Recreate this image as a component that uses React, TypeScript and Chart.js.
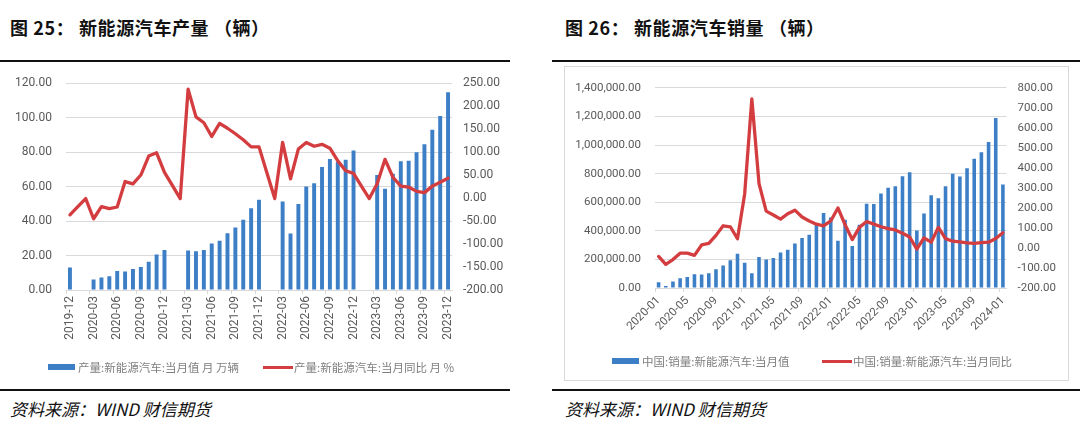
import React, { useEffect, useRef } from "react";
import { Chart, registerables } from "chart.js";
Chart.register(...registerables);

// ---------- Figure 25: production ----------
const prodMonths = [
  "2019-12",
  "2020-01", "2020-02", "2020-03", "2020-04", "2020-05", "2020-06", "2020-07", "2020-08", "2020-09", "2020-10", "2020-11", "2020-12",
  "2021-01", "2021-02", "2021-03", "2021-04", "2021-05", "2021-06", "2021-07", "2021-08", "2021-09", "2021-10", "2021-11", "2021-12",
  "2022-01", "2022-02", "2022-03", "2022-04", "2022-05", "2022-06", "2022-07", "2022-08", "2022-09", "2022-10", "2022-11", "2022-12",
  "2023-01", "2023-02", "2023-03", "2023-04", "2023-05", "2023-06", "2023-07", "2023-08", "2023-09", "2023-10", "2023-11", "2023-12",
];
const prodVolume = [
  13.0,
  null, null, 6.1, 7.2, 8.0, 11.0, 10.7, 12.2, 13.3, 16.4, 20.6, 23.2,
  null, null, 22.9, 22.5, 23.2, 27.0, 28.6, 33.0, 36.2, 40.8, 47.4, 52.4,
  null, null, 51.4, 32.8, 49.9, 60.0, 61.9, 71.4, 76.0, 74.3, 75.6, 81.0,
  null, null, 66.7, 58.7, 67.4, 74.7, 75.0, 80.0, 84.6, 93.0, 101.0, 114.7,
];
const prodYoY = [
  -36.5,
  -18.7, -1, -45, -18.7, -23, -19.4, 36, 31, 50.2, 91.5, 98.6, 56,
  27.5, -1, 237, 176.8, 164, 134, 162.6, 152, 140, 127, 111.4, 111.4,
  55, -1, 121.4, 41.7, 107, 121, 112.8, 117, 108.6, 81, 59.6, 53.8,
  26, -1, 31, 84.3, 45.3, 26, 24, 14.7, 11.9, 26, 34.6, 43,
];
const prodBarLabel = "产量:新能源汽车:当月值 月 万辆";
const prodLineLabel = "产量:新能源汽车:当月同比 月 %";

// ---------- Figure 26: sales ----------
const salesMonths = [
  "2020-01", "2020-02", "2020-03", "2020-04", "2020-05", "2020-06", "2020-07", "2020-08", "2020-09", "2020-10", "2020-11", "2020-12",
  "2021-01", "2021-02", "2021-03", "2021-04", "2021-05", "2021-06", "2021-07", "2021-08", "2021-09", "2021-10", "2021-11", "2021-12",
  "2022-01", "2022-02", "2022-03", "2022-04", "2022-05", "2022-06", "2022-07", "2022-08", "2022-09", "2022-10", "2022-11", "2022-12",
  "2023-01", "2023-02", "2023-03", "2023-04", "2023-05", "2023-06", "2023-07", "2023-08", "2023-09", "2023-10", "2023-11", "2023-12",
  "2024-01",
];
const salesVolume = [
  40700, 13500, 45000, 68000, 77000, 97000, 95000, 104000, 131000, 158000, 194000, 240000,
  176000, 104000, 217000, 199000, 210000, 249000, 267000, 312000, 350000, 373000, 452000, 524000,
  493000, 330000, 477000, 294000, 443000, 590000, 588000, 662000, 701000, 712000, 782000, 809000,
  402000, 522000, 649000, 628000, 712000, 800000, 780000, 838000, 904000, 949000, 1021000, 1189000,
  725000,
];
const salesYoY = [
  -42, -82, -58, -26, -26, -37, 15, 23, 63, 111, 106, 46,
  270, 745, 322, 184, 165, 144, 171, 189, 155, 135, 119, 111,
  135, 200, 116, 42, 103, 132, 119, 106, 97, 90, 74, 55,
  -6, 50, 29, 103, 47, 34, 31, 26, 23, 27, 29, 47,
  76,
];
const salesBarLabel = "中国:销量:新能源汽车:当月值";
const salesLineLabel = "中国:销量:新能源汽车:当月同比";

const BAR = "#3d7fc6";
const LINE = "#d43d3f";
const GRID = "#d9d9d9";
const TICK = "#595959";
const NUM_FONT = "Roboto, 'Liberation Sans', sans-serif";
const CJK = "'Noto Sans CJK SC', 'Noto Sans', sans-serif";

function fmt2(v: number) {
  return Number(v).toFixed(2);
}
function fmtThousands(v: number) {
  return Number(v).toLocaleString("en-US", { minimumFractionDigits: 2, maximumFractionDigits: 2 });
}

function makeConfig(p: any): any {
  return {
    type: "bar",
    data: {
      labels: p.labels,
      datasets: [
        {
          type: "line",
          label: p.lineLabel,
          data: p.line,
          yAxisID: "y1",
          borderColor: LINE,
          backgroundColor: LINE,
          borderWidth: 3.3,
          pointRadius: 0,
          tension: 0,
          borderJoinStyle: "round",
          borderCapStyle: "round",
          order: 0,
        },
        {
          type: "bar",
          label: p.barLabel,
          data: p.bars,
          yAxisID: "y",
          backgroundColor: BAR,
          barPercentage: 0.5,
          categoryPercentage: 1,
          order: 1,
        },
      ],
    },
    options: {
      animation: false,
      responsive: false,
      maintainAspectRatio: false,
      layout: { padding: p.padding },
      plugins: { legend: { display: false }, tooltip: { enabled: false } },
      scales: {
        x: {
          offset: true,
          grid: {
            offset: true,
            drawOnChartArea: false,
            drawTicks: true,
            tickLength: 4,
            color: (c: any) => (c.index % p.every === 0 ? GRID : "rgba(0,0,0,0)"),
          },
          border: { color: GRID },
          ticks: {
            autoSkip: false,
            minRotation: p.rotation,
            maxRotation: p.rotation,
            padding: 2,
            color: TICK,
            font: { family: NUM_FONT, size: p.xFont },
            callback: (_v: any, i: number) => (i % p.every === 0 ? p.labels[i] : ""),
          },
          afterFit: (s: any) => {
            s.height = p.xHeight;
          },
        },
        y: {
          position: "left",
          min: p.left.min,
          max: p.left.max,
          ticks: {
            stepSize: p.left.step,
            padding: p.left.pad,
            color: TICK,
            font: { family: NUM_FONT, size: p.yFont },
            callback: p.left.fmt,
          },
          grid: { color: GRID, drawTicks: false, lineWidth: 1 },
          border: { display: false },
          afterFit: (s: any) => {
            s.width = p.left.width;
          },
        },
        y1: {
          position: "right",
          min: p.right.min,
          max: p.right.max,
          ticks: {
            stepSize: p.right.step,
            padding: p.right.pad,
            color: TICK,
            font: { family: NUM_FONT, size: p.yFont },
            callback: p.right.fmt,
          },
          grid: { drawOnChartArea: false, drawTicks: false },
          border: { display: false },
          afterFit: (s: any) => {
            s.width = p.right.width;
          },
        },
      },
    },
  };
}

const abs = (s: any): any => ({ position: "absolute", ...s });

function Legend({ x1, t1, x2, t2, y, textX1, textX2 }: any) {
  const txt = { fontFamily: CJK, fontSize: "11.5px", color: "#7f7f7f", lineHeight: "14px", whiteSpace: "nowrap" };
  return (
    <>
      <div style={abs({ left: x1, top: y - 3, width: 27, height: 6, background: BAR })} />
      <div style={abs({ left: textX1, top: y - 7, ...txt })}>{t1}</div>
      <div style={abs({ left: x2, top: y - 1.5, width: 30, height: 3, background: LINE })} />
      <div style={abs({ left: textX2, top: y - 7, ...txt })}>{t2}</div>
    </>
  );
}

export default function App() {
  const ref1 = useRef<HTMLCanvasElement>(null);
  const ref2 = useRef<HTMLCanvasElement>(null);

  useEffect(() => {
    const c1 = new Chart(
      ref1.current as HTMLCanvasElement,
      makeConfig({
        labels: prodMonths,
        bars: prodVolume,
        line: prodYoY,
        barLabel: prodBarLabel,
        lineLabel: prodLineLabel,
        padding: { left: 6, right: 8, top: 17, bottom: 12 },
        every: 3,
        rotation: 90,
        xFont: 12,
        yFont: 12,
        xHeight: 60,
        left: { min: 0, max: 120, step: 20, pad: 14, width: 60, fmt: fmt2 },
        right: { min: -200, max: 250, step: 50, pad: 11, width: 60, fmt: fmt2 },
      })
    );
    const c2 = new Chart(
      ref2.current as HTMLCanvasElement,
      makeConfig({
        labels: salesMonths,
        bars: salesVolume,
        line: salesYoY,
        barLabel: salesBarLabel,
        lineLabel: salesLineLabel,
        padding: { left: 5, right: 10.5, top: 14, bottom: 14 },
        every: 4,
        rotation: 45,
        xFont: 11.5,
        yFont: 11.5,
        xHeight: 55,
        left: { min: 0, max: 1400000, step: 200000, pad: 14, width: 85, fmt: fmtThousands },
        right: { min: -200, max: 800, step: 100, pad: 11, width: 50, fmt: fmt2 },
      })
    );
    return () => {
      c1.destroy();
      c2.destroy();
    };
  }, []);

  const title = { fontFamily: CJK, fontSize: "18px", fontWeight: 700, color: "#111", lineHeight: "20px", whiteSpace: "nowrap", letterSpacing: "0.6px" };
  const source = { fontFamily: CJK, fontSize: "17px", fontStyle: "italic", color: "#111", lineHeight: "20px", whiteSpace: "nowrap" };

  return (
    <div style={{ position: "fixed", left: 0, top: 0, width: 1080, height: 427, background: "#fff", overflow: "hidden" }}>
      <div style={abs({ left: 10, top: 17, ...title })}>图 25： 新能源汽车产量 （辆）</div>
      <div style={abs({ left: 565, top: 17, ...title })}>图 26： 新能源汽车销量 （辆）</div>
      <div style={abs({ left: 0, top: 60, width: 510, height: 2, background: "#111" })} />
      <div style={abs({ left: 552, top: 60, width: 528, height: 2, background: "#111" })} />

      <canvas ref={ref1} width={520} height={300} style={abs({ left: 0, top: 62, width: 520, height: 300 })} />
      <Legend x1={48} t1={prodBarLabel} textX1={78} x2={263} t2={prodLineLabel} textX2={294} y={367} />

      <div style={abs({ left: 564, top: 66, width: 503, height: 313, border: "1px solid #d9d9d9" })} />
      <canvas ref={ref2} width={502} height={290} style={abs({ left: 565, top: 67, width: 502, height: 290 })} />
      <Legend x1={612} t1={salesBarLabel} textX1={642} x2={822} t2={salesLineLabel} textX2={853} y={361} />

      <div style={abs({ left: 0, top: 389, width: 510, height: 2, background: "#111" })} />
      <div style={abs({ left: 552, top: 389, width: 528, height: 2, background: "#111" })} />
      <div style={abs({ left: 10, top: 399, ...source })}>资料来源：WIND 财信期货</div>
      <div style={abs({ left: 565, top: 399, ...source })}>资料来源：WIND 财信期货</div>
    </div>
  );
}
